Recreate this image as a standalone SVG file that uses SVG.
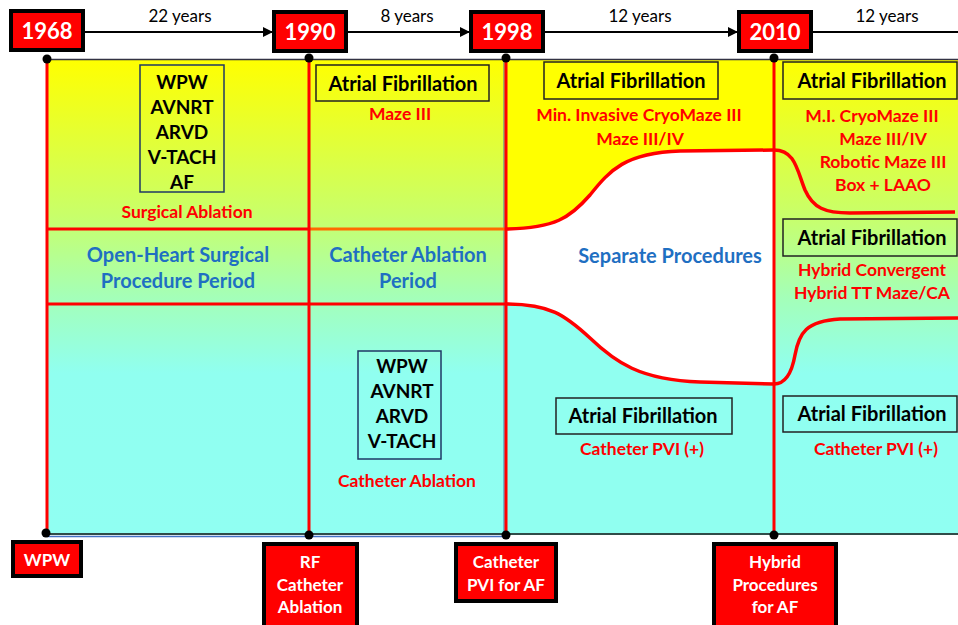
<svg xmlns="http://www.w3.org/2000/svg" width="958" height="625" viewBox="0 0 958 625">
<defs>
<linearGradient id="bg" gradientUnits="userSpaceOnUse" x1="0" y1="59" x2="0" y2="535">
<stop offset="0" stop-color="#ffff00"/>
<stop offset="0.33" stop-color="#c8ff6a"/>
<stop offset="0.5" stop-color="#a4ffb8"/>
<stop offset="0.66" stop-color="#90fff0"/>
<stop offset="1" stop-color="#90fff2"/>
</linearGradient>
<marker id="ah" viewBox="0 0 10 10" refX="10" refY="5" markerWidth="10" markerHeight="10" markerUnits="userSpaceOnUse" orient="auto">
<path d="M0,0 L10,5 L0,10 Z" fill="#000"/>
</marker>
<style>
.t{font-family:Lato,"Liberation Sans",sans-serif;font-weight:bold;text-anchor:middle}
.blk{fill:#000;font-size:20px}
.lst{fill:#000;font-size:19px}
.red{fill:#ff0000;font-size:17.5px}
.blue{fill:#1f6fc2;font-size:20px}
.yr{fill:#fff;font-size:22px}
.wt{fill:#fff;font-size:17px}
.yrs{font-family:Lato,"Liberation Sans",sans-serif;font-size:17px;fill:#000;text-anchor:middle}
.box{fill:none;stroke:#222;stroke-width:1.5}
.rbox{fill:#ff0000;stroke:#000;stroke-width:4}
.rl{stroke:#ff0000;stroke-width:3;fill:none}
.cv{stroke:#ff0000;stroke-width:3.5;fill:none}
.dot{fill:#000}
</style>
</defs>

<g id="background">
<rect x="47" y="59" width="911" height="476" fill="url(#bg)"/>
<path d="M506,59 L774,59 L774,150 L680,151 C625,153 610,170 590,195 C570,218 555,228 506,229 Z" fill="#ffff00"/>
<path d="M506,229 C555,228 570,218 590,195 C610,170 625,153 680,151 L774,150 L774,384 L700,382 C640,380 615,362 590,338 C565,315 550,304 506,304 Z" fill="#ffffff"/>
<path d="M506,304 C550,304 565,315 590,338 C615,362 640,380 700,382 L774,384 L774,535 L506,535 Z" fill="#90fff0"/>
<line x1="47" y1="59.5" x2="958" y2="59.5" stroke="#334" stroke-width="1.5"/>
<line x1="46" y1="534" x2="958" y2="534" stroke="#111" stroke-width="1.5"/>
<line x1="47" y1="536.5" x2="506" y2="536.5" stroke="#4472c4" stroke-width="1.5"/>
<line x1="504" y1="59" x2="504" y2="535" stroke="#4a6fa5" stroke-width="1"/>
</g>

<g id="grid">
<line class="rl" x1="47" y1="229" x2="309" y2="229"/>
<line x1="309" y1="229" x2="506" y2="229" stroke="#ff6a00" stroke-width="3"/>
<line class="rl" x1="47" y1="304" x2="506" y2="304"/>
<line class="rl" x1="47" y1="59" x2="47" y2="534"/>
<line class="rl" x1="309" y1="59" x2="309" y2="535"/>
<line class="rl" x1="506" y1="59" x2="506" y2="535"/>
<line class="rl" x1="774" y1="59" x2="774" y2="535"/>
<path class="cv" d="M506,229 C555,228 570,218 590,195 C610,170 625,153 680,151 L774,150 C795,150 797,170 805,190 C813,208 825,213 850,213 L955,212"/>
<path class="cv" d="M506,304 C550,304 565,315 590,338 C615,362 640,380 700,382 L774,384 C786,384 792,372 795,355 C799,333 806,321 840,319 L958,318"/>
</g>

<g id="connectors">
<line x1="84" y1="32" x2="273" y2="32" stroke="#000" stroke-width="2" marker-end="url(#ah)"/>
<line x1="347" y1="32" x2="470" y2="32" stroke="#000" stroke-width="2" marker-end="url(#ah)"/>
<line x1="543" y1="32" x2="738" y2="32" stroke="#000" stroke-width="2" marker-end="url(#ah)"/>
<line x1="812" y1="32" x2="958" y2="32" stroke="#000" stroke-width="2"/>
<text class="yrs" x="180" y="22">22 years</text>
<text class="yrs" x="407" y="22">8 years</text>
<text class="yrs" x="640" y="22">12 years</text>
<text class="yrs" x="887" y="22">12 years</text>
</g>

<g id="y1968"><rect class="rbox" x="11" y="11" width="72" height="39"/><text class="t yr" x="47" y="39">1968</text></g>
<g id="y1990"><rect class="rbox" x="274" y="12" width="72" height="39"/><text class="t yr" x="310" y="40">1990</text></g>
<g id="y1998"><rect class="rbox" x="471" y="12" width="72" height="39"/><text class="t yr" x="507" y="40">1998</text></g>
<g id="y2010"><rect class="rbox" x="739" y="12" width="72" height="39"/><text class="t yr" x="775" y="40">2010</text></g>

<g id="dots">
<circle class="dot" cx="47" cy="59" r="4.5"/>
<circle class="dot" cx="309" cy="58" r="4.5"/>
<circle class="dot" cx="506" cy="58" r="4.5"/>
<circle class="dot" cx="774" cy="58" r="4.5"/>
<circle class="dot" cx="46" cy="533" r="4.5"/>
<circle class="dot" cx="309" cy="535" r="4.5"/>
<circle class="dot" cx="506" cy="535" r="4.5"/>
<circle class="dot" cx="774" cy="535" r="4.5"/>
</g>

<g id="surgical">
<rect x="140" y="65" width="84" height="127" fill="none" stroke="#1f3864" stroke-width="1.5"/>
<text class="t lst" x="182" y="89">WPW</text>
<text class="t lst" x="182" y="114">AVNRT</text>
<text class="t lst" x="182" y="139">ARVD</text>
<text class="t lst" x="182" y="164">V-TACH</text>
<text class="t lst" x="182" y="189">AF</text>
<text class="t red" x="187" y="218">Surgical Ablation</text>
</g>

<g id="open-heart">
<text class="t blue" x="178" y="262">Open-Heart Surgical</text>
<text class="t blue" x="178" y="288">Procedure Period</text>
</g>

<g id="catheter-period">
<text class="t blue" x="408" y="262">Catheter Ablation</text>
<text class="t blue" x="408" y="288">Period</text>
</g>

<g id="af1990">
<rect class="box" x="316" y="65" width="173" height="36"/>
<text class="t blk" x="403" y="91">Atrial Fibrillation</text>
<text class="t red" x="400" y="120">Maze III</text>
</g>

<g id="catheter-ablation">
<rect x="358" y="351" width="83" height="108" fill="none" stroke="#1f3864" stroke-width="1.5"/>
<text class="t lst" x="402" y="373">WPW</text>
<text class="t lst" x="402" y="398">AVNRT</text>
<text class="t lst" x="402" y="423">ARVD</text>
<text class="t lst" x="402" y="448">V-TACH</text>
<text class="t red" x="407" y="487">Catheter Ablation</text>
</g>

<g id="af1998">
<rect class="box" x="544" y="62" width="174" height="37"/>
<text class="t blk" x="631" y="88">Atrial Fibrillation</text>
<text class="t red" x="639" y="121">Min. Invasive CryoMaze III</text>
<text class="t red" x="640" y="145">Maze III/IV</text>
</g>

<g id="separate">
<text class="t blue" x="670" y="263">Separate Procedures</text>
</g>

<g id="af1998-cath">
<rect class="box" x="556" y="398" width="176" height="36"/>
<text class="t blk" x="643" y="423">Atrial Fibrillation</text>
<text class="t red" x="642" y="455">Catheter PVI (+)</text>
</g>

<g id="af2010">
<rect class="box" x="783" y="62" width="174" height="37"/>
<text class="t blk" x="872" y="88">Atrial Fibrillation</text>
<text class="t red" x="872" y="122">M.I. CryoMaze III</text>
<text class="t red" x="883" y="145">Maze III/IV</text>
<text class="t red" x="883" y="168">Robotic Maze III</text>
<text class="t red" x="883" y="191">Box + LAAO</text>
</g>

<g id="af2010-hybrid">
<rect class="box" x="783" y="219" width="174" height="37"/>
<text class="t blk" x="872" y="245">Atrial Fibrillation</text>
<text class="t red" x="872" y="276">Hybrid Convergent</text>
<text class="t red" x="872" y="299">Hybrid TT Maze/CA</text>
</g>

<g id="af2010-cath">
<rect class="box" x="783" y="396" width="174" height="36"/>
<text class="t blk" x="872" y="421">Atrial Fibrillation</text>
<text class="t red" x="876" y="455">Catheter PVI (+)</text>
</g>

<g id="b-wpw"><rect class="rbox" x="13" y="542" width="68" height="34"/><text class="t wt" x="47" y="566">WPW</text></g>
<g id="b-rf"><rect class="rbox" x="264" y="544" width="93" height="84"/>
<text class="t wt" x="310" y="568">RF</text><text class="t wt" x="310" y="591">Catheter</text><text class="t wt" x="310" y="613">Ablation</text></g>
<g id="b-pvi"><rect class="rbox" x="456" y="544" width="100" height="57"/>
<text class="t wt" x="506" y="568">Catheter</text><text class="t wt" x="506" y="591">PVI for AF</text></g>
<g id="b-hybrid"><rect class="rbox" x="714" y="544" width="122" height="84"/>
<text class="t wt" x="775" y="568">Hybrid</text><text class="t wt" x="775" y="591">Procedures</text><text class="t wt" x="775" y="613">for AF</text></g>
</svg>
